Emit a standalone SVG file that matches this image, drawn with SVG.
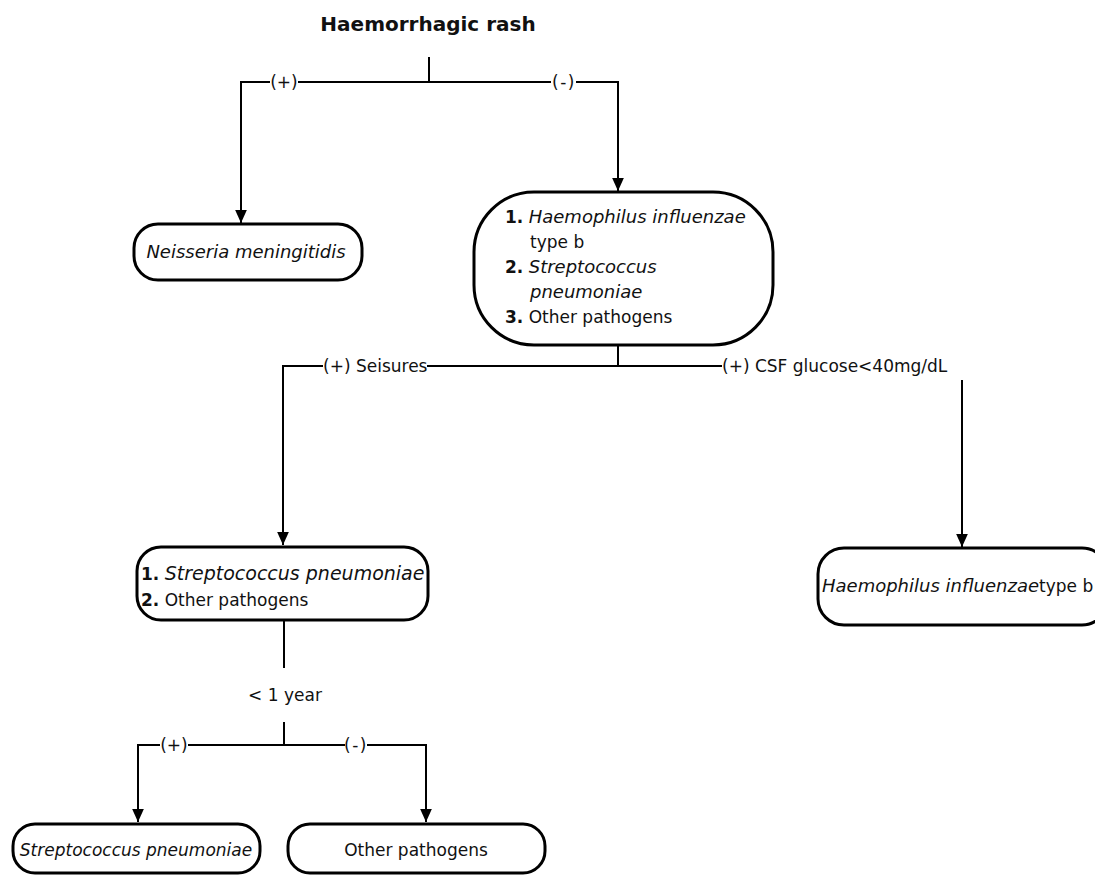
<svg xmlns="http://www.w3.org/2000/svg" width="1095" height="877" viewBox="0 0 1095 877">
<style>
text{font-family:"DejaVu Sans","Liberation Sans",sans-serif;font-size:17px;fill:#111}
.i{font-style:italic;font-size:18px}
.b{font-weight:bold}
.m{letter-spacing:1.5px}
.node{fill:#fff;stroke:#000;stroke-width:3}
.ln{fill:none;stroke:#000;stroke-width:2}
</style>
<defs>
<marker id="ah" viewBox="0 0 10 10" refX="10" refY="5" markerWidth="13" markerHeight="13" markerUnits="userSpaceOnUse" orient="auto">
<path d="M0,0.5 L10,5 L0,9.5 z" fill="#000"/>
</marker>
</defs>
<g id="title"><text x="428" y="31" text-anchor="middle" class="b" style="font-size:20px">Haemorrhagic rash</text></g>
<g id="connectors">
<path class="ln" d="M429,57 V82"/>
<path class="ln" d="M270,82 H241 V223" marker-end="url(#ah)"/>
<path class="ln" d="M298,82 H551"/>
<path class="ln" d="M576,82 H618 V191" marker-end="url(#ah)"/>
<text x="564" y="88" text-anchor="middle" class="m">(-)</text>
<text x="284" y="88" text-anchor="middle">(+)</text>
<path class="ln" d="M618,345 V366"/>
<path class="ln" d="M323,366 H283 V545" marker-end="url(#ah)"/>
<path class="ln" d="M427,366 H722"/>
<text x="323" y="372">(+) Seisures</text>
<text x="722" y="372">(+) CSF glucose&lt;40mg/dL</text>
<path class="ln" d="M962,380 V547" marker-end="url(#ah)"/>
<path class="ln" d="M284,620 V668"/>
<text x="285" y="701" text-anchor="middle">&lt; 1 year</text>
<path class="ln" d="M284,722 V745"/>
<path class="ln" d="M160,745 H138 V822" marker-end="url(#ah)"/>
<path class="ln" d="M188,745 H345"/>
<path class="ln" d="M367,745 H426 V822" marker-end="url(#ah)"/>
<text x="174" y="751" text-anchor="middle">(+)</text>
<text x="356" y="751" text-anchor="middle" class="m">(-)</text>
</g>
<g id="n1">
<rect class="node" x="134" y="224" width="228" height="56" rx="24"/>
<text x="246" y="258" text-anchor="middle" class="i">Neisseria meningitidis</text>
</g>
<g id="n2">
<rect class="node" x="474" y="192" width="299" height="153" rx="60" ry="60"/>
<text x="505" y="223"><tspan class="b">1.</tspan> <tspan class="i">Haemophilus influenzae</tspan></text>
<text x="530" y="248">type b</text>
<text x="505" y="273"><tspan class="b">2.</tspan> <tspan class="i">Streptococcus</tspan></text>
<text x="530" y="298" class="i">pneumoniae</text>
<text x="505" y="323"><tspan class="b">3.</tspan> Other pathogens</text>
</g>
<g id="n3">
<rect class="node" x="137" y="547" width="291" height="73" rx="24"/>
<text x="141" y="580"><tspan class="b">1.</tspan> <tspan class="i" style="font-size:19px">Streptococcus pneumoniae</tspan></text>
<text x="141" y="606"><tspan class="b">2.</tspan> Other pathogens</text>
</g>
<g id="n4">
<rect class="node" x="818" y="548" width="290" height="77" rx="26"/>
<text x="822" y="592"><tspan class="i">Haemophilus influenzae</tspan>type b</text>
</g>
<g id="n5">
<rect class="node" x="13" y="824" width="247" height="49" rx="22"/>
<text x="136" y="856" text-anchor="middle" class="i" style="font-size:17px">Streptococcus pneumoniae</text>
</g>
<g id="n6">
<rect class="node" x="288" y="824" width="257" height="49" rx="22"/>
<text x="416" y="856" text-anchor="middle">Other pathogens</text>
</g>
</svg>
